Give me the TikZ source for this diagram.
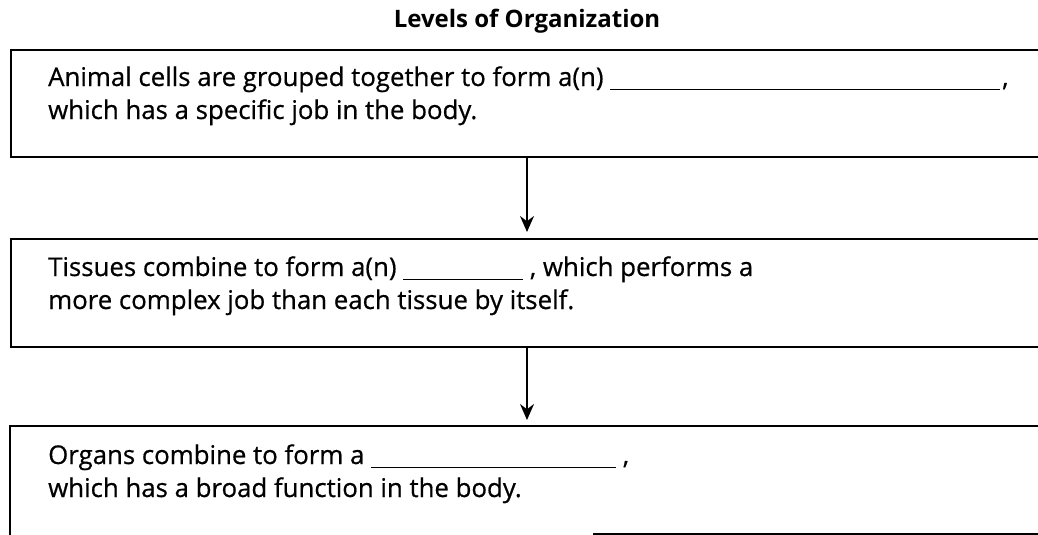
\documentclass[tikz,border=0pt]{standalone}
\usepackage{fontspec}
\setmainfont{Open Sans}
\newfontfamily\bodyfont[FakeBold=0.6]{Open Sans}
\usetikzlibrary{arrows.meta}
\tikzset{
  boxframe/.style={draw=black, line width=1.8pt, minimum width=1080pt, anchor=north west, inner sep=0pt},
  body/.style={anchor=base west, inner sep=0pt, font=\bodyfont\fontsize{25.8}{30}\selectfont},
  heading/.style={anchor=base, inner sep=0pt, font=\fontsize{24}{28}\selectfont\bfseries},
  flow/.style={draw=black, line width=1.8pt, -{Stealth[length=16pt,width=14pt]}, shorten >=6pt},
  bottomedge/.style={draw=black, line width=1.8pt}
}
\newcommand{\blank}[1]{\rule[-4pt]{#1pt}{1.5pt}}
\begin{document}
\begin{tikzpicture}[x=1pt,y=-1pt]
\useasboundingbox (0,0) rectangle (1038,535);
\clip (0,0) rectangle (1038,535);
\fill[white] (0,0) rectangle (1038,535);
\node[heading] (title) at (527,28) {Levels of Organization};
\node[boxframe, minimum height=107pt] (box1) at (10,49) {};
\node[boxframe, minimum height=108pt] (box2) at (10,238) {};
\node[boxframe, draw=none, minimum height=130pt] (box3) at (10,426) {};
\draw[bottomedge] (1045,426) -- (10,426) -- (10,540);
\coordinate (b3cut) at (593,534);
\draw[bottomedge] (b3cut) -- (b3cut -| box3.east);
\node[body] (t1a) at (48,86) {Animal cells are grouped together to form a(n) \blank{390}\hspace{2pt},};
\node[body] (t1b) at (48,119) {which has a specific job in the body.};
\node[body] (t2a) at (48,276) {Tissues combine to form a(n) \blank{120} , which performs a};
\node[body] (t2b) at (48,309) {more complex job than each tissue by itself.};
\node[body] (t3a) at (48,464) {Organs combine to form a \blank{245} ,};
\node[body] (t3b) at (48,497) {which has a broad function in the body.};
\draw[flow] (title |- box1.south) -- (title |- box2.north);
\draw[flow] (title |- box2.south) -- (title |- box3.north);
\end{tikzpicture}
\end{document}
